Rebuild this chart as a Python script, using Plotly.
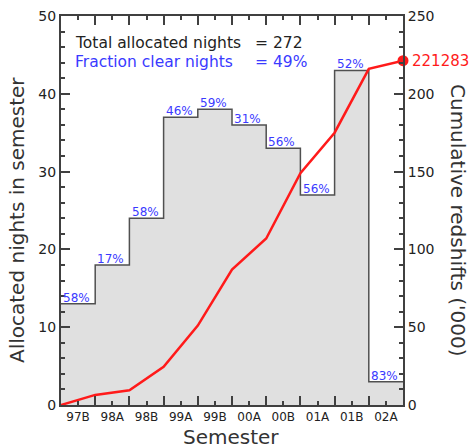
import plotly.graph_objects as go

semesters = ["97B", "98A", "98B", "99A", "99B", "00A", "00B", "01A", "01B", "02A"]
nights = [13, 18, 24, 37, 38, 36, 33, 27, 43, 3]
clear_pct = ["58%", "17%", "58%", "46%", "59%", "31%", "56%", "56%", "52%", "83%"]
cumulative = [0, 6.5, 9.5, 24.5, 51, 87, 107, 149, 175, 216, 221.283]
final_label = "221283"
total_nights = 272
frac_clear = "49%"

FONT = "DejaVu Sans"
AX = "#404040"
TXT = "#222222"
BLUE = "#3a3aff"
RED = "#ff1a1a"

W, H = 473, 448
ml, mr, mt, mb = 61, 70, 16, 43
pw, ph = W - ml - mr, H - mt - mb


def px_x(x):
    return (x - ml) / pw


def px_y(y):
    return 1 - (y - mt) / ph


n = len(semesters)
edges = list(range(n + 1))
centers = [i + 0.5 for i in range(n)]

fig = go.Figure()

fig.add_trace(go.Scatter(
    x=edges, y=nights + [nights[-1]], mode="lines", line_shape="hv",
    line=dict(color="#505050", width=1.5), fill="tozeroy", fillcolor="#e0e0e0",
    hoverinfo="skip", showlegend=False))

fig.add_trace(go.Scatter(
    x=edges, y=cumulative, mode="lines", line=dict(color=RED, width=2.5),
    yaxis="y2", showlegend=False, cliponaxis=False))
fig.add_trace(go.Scatter(
    x=[edges[-1]], y=[cumulative[-1]], mode="markers",
    marker=dict(color=RED, size=11), yaxis="y2", showlegend=False, cliponaxis=False))

for i, p in enumerate(clear_pct):
    fig.add_annotation(x=edges[i + 1], y=nights[i], text=p, showarrow=False,
                       xanchor="right", yanchor="bottom", xshift=-3, yshift=-3,
                       font=dict(family=FONT, size=12, color=BLUE))

fig.add_annotation(x=edges[-1], y=cumulative[-1], yref="y2", text=final_label, showarrow=False,
                   xanchor="left", yanchor="middle", xshift=7,
                   font=dict(family=FONT, size=15, color=RED))

fig.add_annotation(x=px_x(73), y=px_y(43), xref="paper", yref="paper", text="Total allocated nights",
                   showarrow=False, xanchor="left", yanchor="middle",
                   font=dict(family=FONT, size=15.5, color=TXT))
fig.add_annotation(x=px_x(73), y=px_y(62), xref="paper", yref="paper", text="Fraction clear nights",
                   showarrow=False, xanchor="left", yanchor="middle",
                   font=dict(family=FONT, size=15.5, color=BLUE))
fig.add_annotation(x=px_x(253), y=px_y(43), xref="paper", yref="paper", text=f"= {total_nights}",
                   showarrow=False, xanchor="left", yanchor="middle",
                   font=dict(family=FONT, size=15.5, color=TXT))
fig.add_annotation(x=px_x(253), y=px_y(62), xref="paper", yref="paper", text=f"= {frac_clear}",
                   showarrow=False, xanchor="left", yanchor="middle",
                   font=dict(family=FONT, size=15.5, color=BLUE))

fig.add_annotation(x=px_x(458), y=px_y(221), xref="paper", yref="paper",
                   text="Cumulative redshifts ('000)", showarrow=False, textangle=90,
                   xanchor="center", yanchor="middle",
                   font=dict(family=FONT, size=20, color="#333333"))
fig.add_annotation(x=px_x(17), y=px_y(220), xref="paper", yref="paper",
                   text="Allocated nights in semester", showarrow=False, textangle=-90,
                   xanchor="center", yanchor="middle",
                   font=dict(family=FONT, size=20, color="#333333"))
fig.add_annotation(x=px_x(231), y=px_y(437), xref="paper", yref="paper",
                   text="Semester", showarrow=False,
                   xanchor="center", yanchor="middle",
                   font=dict(family=FONT, size=20, color="#333333"))

fig.update_layout(
    width=W, height=H, margin=dict(l=ml, r=mr, t=mt, b=mb),
    paper_bgcolor="white", plot_bgcolor="white",
    font=dict(family=FONT, color=TXT),
    xaxis=dict(range=[0, n], tickvals=centers, ticktext=semesters, ticks="inside",
               ticklen=4, tickcolor=AX, tickwidth=1.5, showline=True, linecolor=AX, linewidth=2,
               mirror="ticks", showgrid=False, zeroline=False, automargin=False,
               tickfont=dict(family=FONT, size=12, color=TXT),
               minor=dict(tickvals=edges, ticks="inside", ticklen=9, tickcolor=AX, tickwidth=1.5)),
    yaxis=dict(range=[0, 50], dtick=10, ticks="inside", ticklen=9, tickcolor=AX, tickwidth=1.5,
               showline=True, linecolor=AX, linewidth=2, showgrid=False, zeroline=False,
               automargin=False,
               tickfont=dict(family=FONT, size=14, color=TXT),
               minor=dict(dtick=2, ticks="inside", ticklen=4, tickcolor=AX, tickwidth=1.5)),
    yaxis2=dict(range=[0, 250], dtick=50, overlaying="y", side="right", ticks="inside", ticklen=9,
                tickcolor=AX, tickwidth=1.5, showline=True, linecolor=AX, linewidth=2,
                showgrid=False, zeroline=False, automargin=False,
                tickfont=dict(family=FONT, size=14, color=TXT),
                minor=dict(dtick=10, ticks="inside", ticklen=4, tickcolor=AX, tickwidth=1.5)),
)

fig.write_html("out.html", config={"displayModeBar": False},
               post_script="document.body.style.margin='0';")
